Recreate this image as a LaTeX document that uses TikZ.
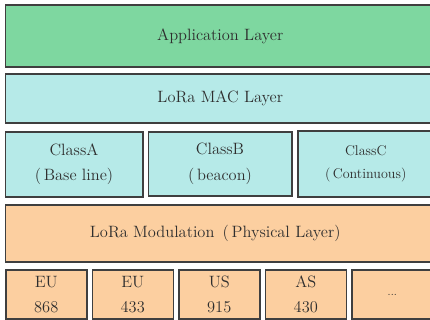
\documentclass[tikz,border=0pt]{standalone}
\usepackage{tikz}

\definecolor{appgreen}{HTML}{7ED7A0}
\definecolor{maccyan}{HTML}{B6EAE8}
\definecolor{phyorange}{HTML}{FCCFA0}
\definecolor{edgegray}{HTML}{3F3F3F}
\definecolor{textgray}{HTML}{2E2E2E}

\begin{document}
\begin{tikzpicture}[x=0.03cm,y=-0.03cm,
    layer/.style={draw=edgegray, line width=1.3pt, anchor=north west, inner sep=0pt,
      text=textgray, align=center, font=\fontsize{14}{21.5}\selectfont},
    band/.style={layer, minimum width=12.9cm},
    region/.style={layer, fill=phyorange, minimum width=2.43cm, minimum height=1.47cm}
  ]
    \useasboundingbox (0,0) rectangle (430,320);
    \clip (0,0) rectangle (430,320);
    % stack of layers
    \node[band, fill=appgreen, minimum height=1.845cm] (app) at (4.5,4.5) {Application Layer};
    \node[band, fill=maccyan, minimum height=1.455cm] (mac) at (4.5,73.5) {LoRa MAC Layer};
    \node[layer, fill=maccyan, minimum width=4.125cm, minimum height=1.95cm] (classa) at (4.5,131) {ClassA\\(\,Base line)};
    \node[layer, fill=maccyan, minimum width=4.305cm, minimum height=1.92cm] (classb) at (147.5,131) {ClassB\\(\,beacon)};
    \node[layer, fill=maccyan, minimum width=4.08cm, minimum height=1.98cm, font=\fontsize{12}{19}\selectfont] (classc) at (297,130) {ClassC\\(\,Continuous)};
    \node[band, fill=phyorange, minimum height=1.71cm] (phy) at (4.5,204) {LoRa Modulation\enspace(\,Physical Layer)\hspace*{3mm}};
    % frequency plans
    \node[region] (eu868) at (5,269) {EU\\868};
    \node[region] (eu433) at (91.5,269) {EU\\433};
    \node[region] (us915) at (178,269) {US\\915};
    \node[region] (as430) at (264.5,269) {AS\\430};
    \node[region, font=\small] (more) at (351,269) {\raisebox{-0.6ex}{...}};
  \end{tikzpicture}
\end{document}
